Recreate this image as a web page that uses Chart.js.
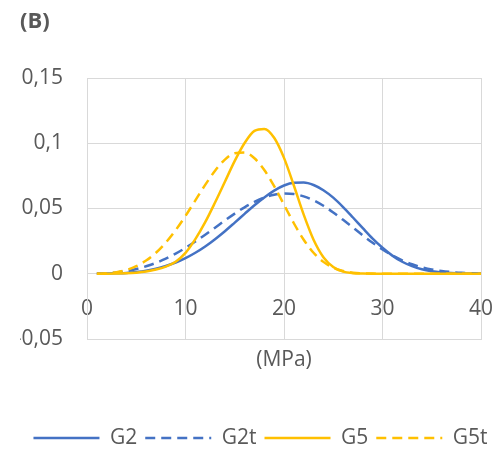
<!DOCTYPE html>
<html>
<head>
<meta charset="utf-8">
<script src="https://cdn.jsdelivr.net/npm/chart.js@4.4.1/dist/chart.umd.min.js"></script>
<style>
    html, body { margin: 0; padding: 0; background: #fff; }
    #wrap { width: 501px; height: 449px; }
</style>
</head>
<body>
<div id="wrap"><canvas id="chart" width="501" height="449"></canvas></div>
<script>
// pressure (MPa)
const xValues = [1, 2, 3, 4, 5, 6, 7, 8, 9, 10, 11, 12, 13, 14, 15, 16, 17, 18, 19, 20,
    21, 22, 23, 24, 25, 26, 27, 28, 29, 30, 31, 32, 33, 34, 35, 36, 37, 38, 39, 40];

const g2 = [0, 0.0001, 0.0003, 0.0006, 0.0013, 0.0023, 0.0038, 0.0059, 0.0086, 0.0120,
    0.0161, 0.0209, 0.0265, 0.0326, 0.0392, 0.0459, 0.0525, 0.0585, 0.0637, 0.0676,
    0.0697, 0.0699, 0.0680, 0.0640, 0.0583, 0.0511, 0.0431, 0.0349, 0.0269, 0.0199,
    0.0139, 0.0092, 0.0058, 0.0034, 0.0019, 0.0010, 0.0005, 0.0002, 0.0001, 0];

const g2t = [0.0001, 0.0004, 0.0010, 0.0020, 0.0036, 0.0057, 0.0083, 0.0116, 0.0154, 0.0198,
    0.0247, 0.0299, 0.0353, 0.0408, 0.0461, 0.0509, 0.0551, 0.0584, 0.0606, 0.0615,
    0.0611, 0.0593, 0.0563, 0.0521, 0.0470, 0.0413, 0.0354, 0.0294, 0.0237, 0.0186,
    0.0141, 0.0103, 0.0073, 0.0050, 0.0033, 0.0021, 0.0013, 0.0007, 0.0004, 0.0002];

const g5 = [0, 0, 0.0001, 0.0003, 0.0008, 0.0017, 0.0032, 0.0055, 0.0092, 0.0160,
    0.0265, 0.0395, 0.0546, 0.0705, 0.0865, 0.1002, 0.1095, 0.1110, 0.1042, 0.0888,
    0.0676, 0.0453, 0.0261, 0.0127, 0.0051, 0.0016, 0.0004, 0.0001, 0, 0,
    0, 0, 0, 0, 0, 0, 0, 0, 0, 0];

const g5t = [0, 0.0003, 0.0012, 0.0029, 0.0058, 0.0101, 0.0161, 0.0239, 0.0334, 0.0443,
    0.0562, 0.0681, 0.0789, 0.0875, 0.0924, 0.0929, 0.0885, 0.0795, 0.0671, 0.0529,
    0.0387, 0.0261, 0.0161, 0.0091, 0.0046, 0.0021, 0.0008, 0.0003, 0.0001, 0,
    0, 0, 0, 0, 0, 0, 0, 0, 0, 0];

const seriesNames = ['G2', 'G2t', 'G5', 'G5t'];
const xTickLabels = ['0', '10', '20', '30', '40'];
const yTickLabels = ['-0,05', '0', '0,05', '0,1', '0,15'];

const BLUE = '#4472C4';
const GOLD = '#FFC000';
const GRID = '#D9D9D9';
const TEXT = '#595959';

Chart.defaults.font.family = "'Open Sans', sans-serif";

function toPoints(values) {
    return xValues.map((x, i) => ({ x: x, y: values[i] }));
}

function makeSeries(label, values, color, dashed, order) {
    return {
        label: label,
        data: toPoints(values),
        borderColor: color,
        backgroundColor: color,
        borderWidth: 2.5,
        borderDash: dashed ? [10, 6] : [],
        pointRadius: 0,
        fill: false,
        cubicInterpolationMode: 'monotone',
        xAxisID: 'x',
        yAxisID: 'y',
        order: order
    };
}

// legend uses the line style of each series (point style would drop the dashes)
function legendLabels(chart) {
    const items = Chart.defaults.plugins.legend.labels.generateLabels(chart);
    items.forEach(item => {
        const ds = chart.data.datasets[item.datasetIndex];
        item.lineDash = ds.borderDash;
        item.lineWidth = ds.borderWidth;
        item.strokeStyle = ds.borderColor;
    });
    return items;
}

const ctx = document.getElementById('chart').getContext('2d');

new Chart(ctx, {
    type: 'line',
    data: {
        datasets: [
            makeSeries(seriesNames[0], g2, BLUE, false, 4),
            makeSeries(seriesNames[1], g2t, BLUE, true, 3),
            makeSeries(seriesNames[2], g5, GOLD, false, 2),
            makeSeries(seriesNames[3], g5t, GOLD, true, 1)
        ]
    },
    options: {
        responsive: false,
        devicePixelRatio: 1,
        animation: false,
        layout: { padding: { left: 20, right: 0, top: 0, bottom: -9.5 } },
        plugins: {
            tooltip: { enabled: false },
            title: {
                display: true,
                text: '(B)',
                align: 'start',
                color: TEXT,
                font: { size: 22, weight: 'bold' },
                padding: { top: 9, bottom: 42.6 }
            },
            legend: {
                position: 'bottom',
                labels: {
                    usePointStyle: true,
                    pointStyle: 'line',
                    pointStyleWidth: 66,
                    color: TEXT,
                    font: { size: 21 },
                    padding: 8,
                    sort: (a, b) => a.datasetIndex - b.datasetIndex,
                    generateLabels: legendLabels
                }
            }
        },
        scales: {
            x: {
                type: 'linear',
                position: 'bottom',
                min: 0,
                max: 40,
                ticks: { display: false, stepSize: 10 },
                grid: { color: GRID, drawTicks: false },
                border: { color: GRID },
                title: {
                    display: true,
                    text: '(MPa)',
                    color: TEXT,
                    font: { size: 21 },
                    padding: { top: 8.4, bottom: 46.9 }
                }
            },
            // tick labels sit just under the zero line, as in the original
            x0: {
                type: 'linear',
                axis: 'x',
                position: { y: 0 },
                min: 0,
                max: 40,
                ticks: {
                    stepSize: 10,
                    padding: 0,
                    maxRotation: 0,
                    color: TEXT,
                    font: { size: 21 },
                    callback: (v, i) => xTickLabels[i]
                },
                grid: {
                    color: 'rgba(0,0,0,0)',
                    drawOnChartArea: false,
                    drawTicks: true,
                    tickLength: 23
                },
                border: { display: false }
            },
            y: {
                type: 'linear',
                position: 'left',
                min: -0.05,
                max: 0.15,
                ticks: {
                    stepSize: 0.05,
                    padding: 24,
                    color: TEXT,
                    font: { size: 21 },
                    callback: (v, i) => yTickLabels[i]
                },
                grid: { color: GRID, drawTicks: false },
                border: { color: GRID },
                afterFit: function (scale) { scale.width = 67; }
            },
            yr: {
                type: 'linear',
                position: 'right',
                min: 0,
                max: 1,
                ticks: { display: false },
                grid: { display: false, drawTicks: false },
                border: { display: false },
                afterFit: function (scale) { scale.width = 20; }
            }
        }
    }
});
</script>
</body>
</html>
